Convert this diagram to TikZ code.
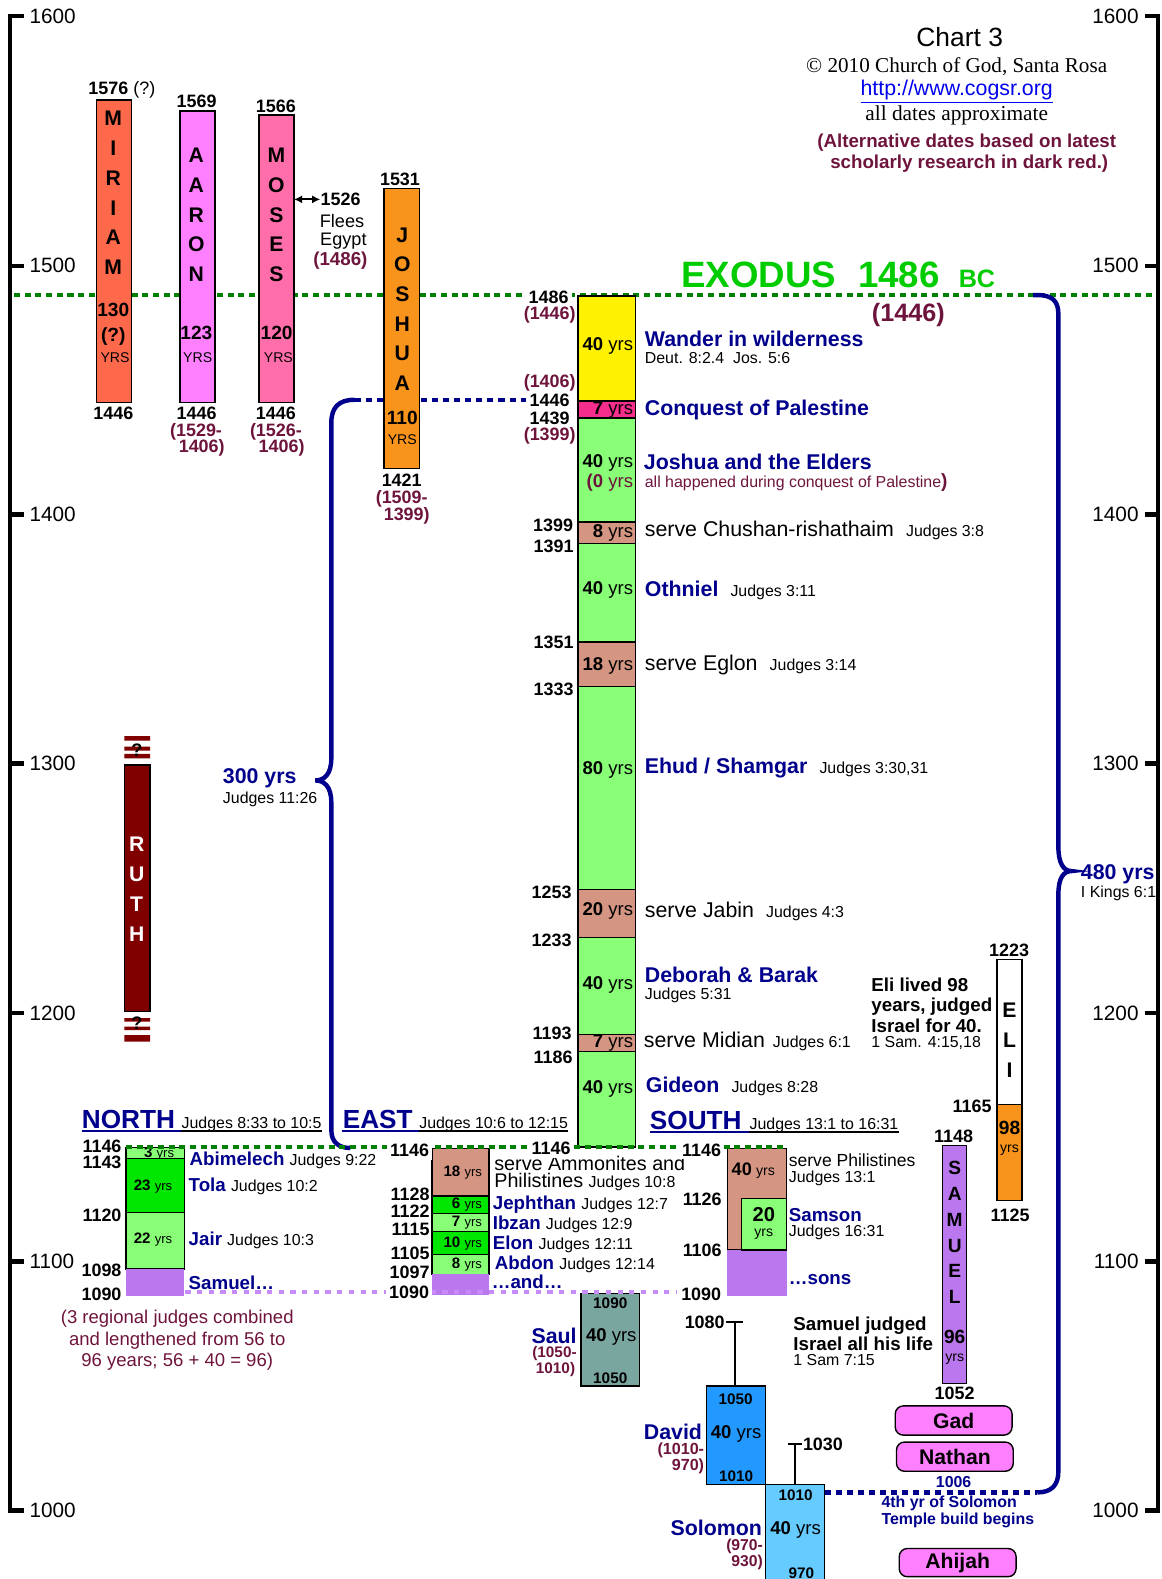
\documentclass[tikz,border=0pt]{standalone}
\usepackage{fontspec}
\setmainfont{Liberation Sans}
\newfontfamily\timesrm{Liberation Serif}
\usetikzlibrary{arrows.meta}
\definecolor{navy}{RGB}{0,0,140}
\definecolor{dkred}{RGB}{110,20,60}
\definecolor{dkgreen}{RGB}{0,128,0}
\definecolor{exgreen}{RGB}{0,204,0}
\definecolor{ltgreen}{RGB}{136,255,119}
\definecolor{brgreen}{RGB}{0,230,0}
\definecolor{servetan}{RGB}{212,150,130}
\definecolor{hotpink}{RGB}{245,45,140}
\definecolor{miriamred}{RGB}{255,105,75}
\definecolor{aaronpink}{RGB}{255,128,255}
\definecolor{mosespink}{RGB}{255,110,170}
\definecolor{joshorange}{RGB}{248,148,28}
\definecolor{ruthred}{RGB}{128,0,0}
\definecolor{samuelpurple}{RGB}{187,119,238}
\definecolor{lilac}{RGB}{200,140,250}
\definecolor{saulgrey}{RGB}{122,166,160}
\definecolor{davidblue}{RGB}{34,153,255}
\definecolor{solomonblue}{RGB}{102,204,255}
\definecolor{urlblue}{RGB}{0,0,238}
\newcommand\jref[1]{{\color{black}\mdseries\fontsize{7.9}{8}\selectfont #1}}
\newcommand\yrsm[1]{{\mdseries\fontsize{#1}{#1}\selectfont yrs}}
\begin{document}
\begin{tikzpicture}[x=0.5pt,y=-0.5pt,
    axl/.style={font=\fontsize{10.3}{11}\selectfont,inner sep=0pt},
    tick/.style={line width=2.3pt},
    yr/.style={font=\bfseries\fontsize{8.9}{9}\selectfont,inner sep=0pt},
    alt/.style={yr,text=dkred},
    yrw/.style={yr,fill=white,inner sep=1.5pt},
    sm/.style={font=\bfseries\fontsize{7.6}{8}\selectfont,inner sep=0pt},
    smalt/.style={font=\bfseries\fontsize{7.8}{8}\selectfont,text=dkred,anchor=east,inner sep=0pt},
    ttl/.style={font=\bfseries\fontsize{10.6}{11}\selectfont,text=navy,anchor=west,inner sep=0pt},
    txt/.style={font=\fontsize{10.6}{11}\selectfont,anchor=west,inner sep=0pt},
    refs/.style={font=\fontsize{7.9}{8}\selectfont,anchor=west,inner sep=0pt},
    judge/.style={font=\bfseries\fontsize{9.3}{10}\selectfont,text=navy,anchor=west,inner sep=0pt},
    note/.style={font=\bfseries\fontsize{9.3}{10}\selectfont,anchor=west,inner sep=0pt},
    colyr/.style={font=\fontsize{9.2}{10}\selectfont,anchor=east,inner sep=0pt},
    smyr/.style={font=\bfseries\fontsize{7.5}{8}\selectfont,inner sep=0pt},
    life/.style={font=\bfseries\fontsize{9.5}{10}\selectfont,inner sep=0pt},
    yrscap/.style={font=\fontsize{7}{8}\selectfont,inner sep=0pt},
    vlet/.style={font=\bfseries\fontsize{10.5}{14.75}\selectfont,align=center,inner sep=0pt},
    bar/.style={draw,line width=0.7pt},
    hdr/.style={font=\bfseries\fontsize{13}{14}\selectfont,text=navy,anchor=base west,inner sep=0pt},
    gdots/.style={dkgreen,line width=2pt,dash pattern=on 3pt off 2.3pt},
    pdots/.style={lilac,line width=2.2pt,dash pattern=on 2.6pt off 3.2pt},
    bdots/.style={navy,line width=2.2pt,dash pattern=on 3pt off 2.5pt},
    brace/.style={navy,line width=2.2pt},
    prophet/.style={draw,fill=aaronpink,rounded corners=4pt,line width=0.7pt,font=\bfseries\fontsize{10.5}{11}\selectfont,minimum width=58pt,minimum height=14.5pt,inner sep=0pt}]
\useasboundingbox (0,0) rectangle (1153,1568);
%% time axes
\draw[tick] (24,16) -- (10,16) -- (10,1500) -- (24,1500);
\draw[tick] (1137,16) -- (1150,16) -- (1150,1500) -- (1137,1500);
\draw[tick] (10,264) -- (24,264) (10,511) -- (24,511) (10,758) -- (24,758) (10,1006) -- (24,1006) (10,1253) -- (24,1253);
\draw[tick] (1137,264) -- (1150,264) (1137,511) -- (1150,511) (1137,758) -- (1150,758) (1137,1006) -- (1150,1006) (1137,1253) -- (1150,1253);
\node[axl,anchor=west] (l16) at (29,16) {1600}; \node[axl,anchor=west] (l15) at (29,264) {1500};
\node[axl,anchor=west] (l14) at (29,511) {1400}; \node[axl,anchor=west] (l13) at (29,758) {1300};
\node[axl,anchor=west] (l12) at (29,1006) {1200}; \node[axl,anchor=west] (l11) at (29,1253) {1100};
\node[axl,anchor=west] (l10) at (29,1500) {1000};
\node[axl,anchor=east] (r16) at (1131,16) {1600}; \node[axl,anchor=east] (r15) at (1131,264) {1500};
\node[axl,anchor=east] (r14) at (1131,511) {1400}; \node[axl,anchor=east] (r13) at (1131,758) {1300};
\node[axl,anchor=east] (r12) at (1131,1006) {1200}; \node[axl,anchor=east] (r11) at (1131,1253) {1100};
\node[axl,anchor=east] (r10) at (1131,1500) {1000};
%% title block
\node[font=\fontsize{13.1}{14}\selectfont,inner sep=0pt] (chart) at (953,36.5) {Chart 3};
\node[font=\timesrm\fontsize{10.5}{11}\selectfont,inner sep=0pt] (copy) at (950,66) {© 2010 Church of God, Santa Rosa};
\node[font=\fontsize{10.6}{11}\selectfont,text=urlblue,inner sep=0pt] (url) at (950,91) {\underline{http://www.cogsr.org}};
\node[font=\timesrm\fontsize{10.6}{11}\selectfont,inner sep=0pt] (approx) at (950,115) {all dates approximate};
\node[font=\bfseries\fontsize{9.3}{11}\selectfont,text=dkred,inner sep=0pt] (altnote1) at (960,141.3) {(Alternative dates based on latest};
\node[font=\bfseries\fontsize{9.3}{11}\selectfont,text=dkred,inner sep=0pt] (altnote2) at (962.5,162.2) {scholarly research in dark red.)};
%% exodus
\draw[gdots] (14,293) -- (1148,293);
\node[font=\bfseries\fontsize{18.2}{19}\selectfont,text=exgreen,anchor=base west,inner sep=0pt] (exodus) at (676,285.3) {EXODUS\hspace{11pt}1486\hspace{9.5pt}{\fontsize{12.5}{13}\selectfont BC}};
\node[font=\bfseries\fontsize{12.5}{13}\selectfont,text=dkred,inner sep=0pt] (exalt) at (902,312.8) {(1446)};
%% 300 yrs
\coordinate (b300top) at (352,397); \coordinate (b300end) at (522,397); \coordinate (b300low) at (348,1140);
\draw[bdots] (b300top) -- (b300end);
\draw[brace] (b300low) .. controls (336,1140) and (329,1134) .. (329,1122) -- (329,797) .. controls (329,781) and (322,775) .. (313,775) .. controls (322,775) and (329,769) .. (329,753) -- (329,420) .. controls (329,405) and (336,397) .. (b300top);
\node[ttl] (y300) at (221,773) {300 yrs};
\node[refs] (j1126) at (221,793.5) {Judges 11:26};
%% Miriam
\draw[bar,fill=miriamred] (96,99.3) rectangle (130.8,399.5);
\node[vlet] (miriam) at (112.5,191.6) {M\\I\\R\\I\\A\\M};
\node[life] (m130) at (112.5,307.8) {130}; \node[life] (mq) at (112.5,334.3) {(?)}; \node[yrscap] (myrs) at (114.2,354.8) {YRS};
\node[yr] (m1576) at (121,89.4) {1576 \mdseries(?)};
\node[yr] (m1446) at (112.5,410.4) {1446};
%% Aaron
\draw[bar,fill=aaronpink] (178.7,110.2) rectangle (213.5,399.5);
\node[vlet] (aaron) at (195,213.5) {A\\A\\R\\O\\N};
\node[life] (a123) at (195,330.4) {123}; \node[yrscap] (ayrs) at (196.3,354.8) {YRS};
\node[yr] (a1569) at (195.3,101) {1569};
\node[yr] (a1446) at (195.3,410.4) {1446};
\node[alt] (aalt1) at (194.7,428.7) {(1529-}; \node[alt] (aalt2) at (200.3,445.2) {1406)};
%% Moses
\draw[bar,fill=mosespink] (257.2,114.2) rectangle (292,399.5);
\node[vlet] (moses) at (274.5,213.5) {M\\O\\S\\E\\S};
\node[life] (m120) at (274.7,330.4) {120}; \node[yrscap] (myrs2) at (276.4,354.8) {YRS};
\node[yr] (m1566) at (274,105.3) {1566};
\node[yr] (mo1446) at (274,410.4) {1446};
\node[alt] (moalt1) at (274,428.7) {(1526-}; \node[alt] (moalt2) at (279.7,445.2) {1406)};
\coordinate (mosesR) at (292,198);
\node[yr,anchor=west] (f1526) at (318,198) {1526};
\draw[{Latex[length=4pt,width=4pt]}-{Latex[length=4pt,width=4pt]},line width=1pt] (mosesR) -- (f1526.west);
\node[font=\fontsize{9}{9}\selectfont,inner sep=0pt] (flees) at (339.6,219) {Flees};
\node[font=\fontsize{9}{9}\selectfont,inner sep=0pt] (egypt) at (341,239) {Egypt};
\node[alt,font=\bfseries\fontsize{9.3}{10}\selectfont] (f1486) at (338,259) {(1486)};
%% Joshua
\draw[bar,fill=joshorange] (381.3,187) rectangle (416.4,465);
\node[vlet] (joshua) at (399.5,307) {J\\O\\S\\H\\U\\A};
\node[life] (j110) at (399.5,415.4) {110}; \node[yrscap] (jyrs) at (399.5,437) {YRS};
\node[yr] (j1531) at (397.2,178) {1531};
\node[yr] (j1421) at (398.9,476.7) {1421};
\node[alt] (jalt1) at (398.9,494.9) {(1509-}; \node[alt] (jalt2) at (403.9,512.4) {1399)};
%% Ruth
\fill[ruthred] (123.5,731) rectangle (149,735.5) (123.5,741.5) rectangle (149,745.5) (123.5,748.5) rectangle (149,753);
\draw[bar,fill=ruthred] (123.5,759.7) rectangle (149,1004.6);
\fill[ruthred] (123.5,1011) rectangle (149,1014.6) (123.5,1019.5) rectangle (149,1023) (123.5,1027.8) rectangle (149,1034.4);
\node[vlet,text=white] (ruth) at (135.7,883) {R\\U\\T\\H};
\node[font=\bfseries\fontsize{9}{9}\selectfont,inner sep=0pt] (rq1) at (136,745) {?};
\node[font=\bfseries\fontsize{9}{9}\selectfont,inner sep=0pt] (rq2) at (136,1016) {?};
%% judges column
\draw[bar,fill=yellow] (574,294) rectangle (631,398);
\draw[bar,fill=hotpink] (574,398) rectangle (631,415);
\draw[bar,fill=ltgreen] (574,415) rectangle (631,518.5);
\draw[bar,fill=servetan] (574,518.5) rectangle (631,540);
\draw[bar,fill=ltgreen] (574,540) rectangle (631,637.5);
\draw[bar,fill=servetan] (574,637.5) rectangle (631,682);
\draw[bar,fill=ltgreen] (574,682) rectangle (631,883);
\draw[bar,fill=servetan] (574,883) rectangle (631,931);
\draw[bar,fill=ltgreen] (574,931) rectangle (631,1027);
\draw[bar,fill=servetan] (574,1027) rectangle (631,1044);
\draw[bar,fill=ltgreen] (574,1044) rectangle (631,1139);
\node[colyr] (c40a) at (629,344) {\textbf{40} yrs};
\begin{scope} \clip (574,398) rectangle (631,415); \node[colyr] (c7a) at (629,407) {\textbf{7} yrs}; \end{scope}
\node[colyr] (c40b) at (629,460) {\textbf{40} yrs}; \node[colyr,text=dkred] (c0) at (629,479) {\textbf{(0} yrs};
\node[colyr] (c8) at (629,529) {\textbf{8} yrs};
\node[colyr] (c40c) at (629,586) {\textbf{40} yrs};
\node[colyr] (c18) at (629,661) {\textbf{18} yrs};
\node[colyr] (c80) at (629,765) {\textbf{80} yrs};
\node[colyr] (c20) at (629,905) {\textbf{20} yrs};
\node[colyr] (c40d) at (629,978) {\textbf{40} yrs};
\begin{scope} \clip (574,1027) rectangle (631,1044); \node[colyr] (c7b) at (629,1035.5) {\textbf{7} yrs}; \end{scope}
\node[colyr] (c40e) at (629,1081) {\textbf{40} yrs};
\node[yrw,anchor=east] (y1486) at (568,295) {1486};
\node[alt,anchor=east] (a1446c) at (572,313) {(1446)};
\node[alt,anchor=east] (a1406) at (572,380.5) {(1406)};
\node[yr,anchor=east] (y1446) at (566,398) {1446};
\node[yr,anchor=east] (y1439) at (566,415.5) {1439};
\node[alt,anchor=east] (a1399) at (572,433) {(1399)};
\node[yr,anchor=east] (y1399) at (569.5,522) {1399};
\node[yr,anchor=east] (y1391) at (570,543) {1391};
\node[yr,anchor=east] (y1351) at (570,638) {1351};
\node[yr,anchor=east] (y1333) at (570,685) {1333};
\node[yr,anchor=east] (y1253) at (568,886.5) {1253};
\node[yr,anchor=east] (y1233) at (568,934) {1233};
\node[yr,anchor=east] (y1193) at (568,1026) {1193};
\node[yr,anchor=east] (y1186) at (569,1050) {1186};
\node[ttl] (wander) at (640,337) {Wander in wilderness};
\node[refs] (deut) at (640,356) {Deut. 8:2.4\ \ Jos. 5:6};
\node[ttl] (conquest) at (640,407) {Conquest of Palestine};
\node[ttl] (elders) at (639,458.5) {Joshua and the Elders};
\node[refs,text=dkred] (happened) at (640,479.5) {all happened during conquest of Palestine{\bfseries\fontsize{9.5}{10}\selectfont)}};
\node[txt] (chushan) at (640,527) {serve Chushan-rishathaim\hspace{6pt}\jref{Judges 3:8}};
\node[ttl] (othniel) at (640,586) {Othniel\hspace{6pt}\jref{Judges 3:11}};
\node[txt] (eglon) at (640,660) {serve Eglon\hspace{6pt}\jref{Judges 3:14}};
\node[ttl] (ehud) at (640,763) {Ehud / Shamgar\hspace{6pt}\jref{Judges 3:30,31}};
\node[txt] (jabin) at (640,905) {serve Jabin\hspace{6pt}\jref{Judges 4:3}};
\node[ttl] (deborah) at (640,968) {Deborah \& Barak};
\node[refs] (deb531) at (640,988) {Judges 5:31};
\node[txt] (midian) at (639,1034.5) {serve Midian\hspace{4pt}\jref{Judges 6:1}};
\node[ttl] (gideon) at (641,1078.5) {Gideon\hspace{6pt}\jref{Judges 8:28}};
%% Eli
\node[note,align=left,anchor=north west] (elinote) at (865,971) {Eli lived 98\\years, judged\\Israel for 40.};
\node[refs] (sam415) at (865,1036) {1 Sam. 4:15,18};
\draw[bar,fill=white] (990,953) rectangle (1015,1096.5);
\draw[bar,fill=joshorange] (990,1096.5) rectangle (1015,1192);
\node[vlet,font=\bfseries\fontsize{10.5}{15}\selectfont] (eli) at (1002.5,1033) {E\\L\\I};
\node[life] (e98) at (1002.5,1120) {98}; \node[yrscap] (e98y) at (1002.5,1142) {yrs};
\node[yr] (e1223) at (1002,943.4) {1223};
\node[yr,anchor=east] (e1165) at (985,1099) {1165};
\node[yr] (e1125) at (1003,1206.6) {1125};
%% north
\node[hdr] (north) at (81,1120.5) {NORTH};
\node[refs,anchor=base west] (northref) at (180,1120.5) {Judges 8:33 to 10:5};
\draw[navy,line width=0.8pt] ([yshift=-1.3pt]north.base west) -- ([yshift=-1.3pt]northref.base west);
\draw[line width=0.7pt] ([yshift=-1.3pt]northref.base west) -- ([yshift=-1.3pt]northref.base east);
\draw[bar,fill=ltgreen] (125,1139.5) rectangle (183,1150.5);
\draw[bar,fill=brgreen] (125,1150.5) rectangle (183,1204);
\draw[bar,fill=ltgreen] (125,1204) rectangle (183,1260);
\fill[samuelpurple] (125,1260) rectangle (183,1287);
\begin{scope} \clip (125,1139.5) rectangle (183,1150.5); \node[smyr] (n3) at (158,1146) {3 \yrsm{6.5}}; \end{scope}
\node[smyr] (n23) at (152,1178) {23 \yrsm{6.5}};
\node[smyr] (n22) at (152,1231) {22 \yrsm{6.5}};
\node[yr,anchor=east] (n1146) at (121,1138) {1146};
\node[yr,anchor=east] (n1143) at (121,1154.5) {1143};
\node[yr,anchor=east] (n1120) at (121,1206.5) {1120};
\node[yr,anchor=east] (n1098) at (121,1261) {1098};
\node[yr,anchor=east] (n1090) at (121,1285) {1090};
\node[judge] (abimelech) at (188,1152) {Abimelech \jref{Judges 9:22}};
\node[judge] (tola) at (187,1178.5) {Tola \jref{Judges 10:2}};
\node[judge] (jair) at (187,1232) {Jair \jref{Judges 10:3}};
\node[judge] (samnorth) at (187,1274) {Samuel…};
\node[font=\fontsize{9.2}{10.75}\selectfont,text=dkred,align=center,inner sep=0pt] (combined) at (176,1331) {(3 regional judges combined\\and lengthened from 56 to\\96 years; 56 + 40 = 96)};
%% east
\node[hdr] (east) at (340,1120.5) {EAST};
\node[refs,anchor=base west] (eastref) at (416,1120.5) {Judges 10:6 to 12:15};
\draw[navy,line width=0.8pt] ([yshift=-1.3pt]east.base west) -- ([yshift=-1.3pt]eastref.base west);
\draw[line width=0.7pt] ([yshift=-1.3pt]eastref.base west) -- ([yshift=-1.3pt]eastref.base east);
\draw[bar,fill=servetan] (429,1140.7) rectangle (485.6,1187.7);
\draw[bar,fill=brgreen] (429,1187.7) rectangle (485.6,1205);
\draw[bar,fill=ltgreen] (429,1205) rectangle (485.6,1223);
\draw[bar,fill=brgreen] (429,1223) rectangle (485.6,1245.6);
\draw[bar,fill=ltgreen] (429,1245.6) rectangle (485.6,1265.5);
\fill[samuelpurple] (429,1265.5) rectangle (485.6,1286);
\node[smyr,anchor=east] (e18) at (479,1164.5) {18 \yrsm{6.5}};
\node[smyr,anchor=east] (e6) at (479,1196) {6 \yrsm{6.5}};
\node[smyr,anchor=east] (e7) at (479,1214.5) {7 \yrsm{6.5}};
\node[smyr,anchor=east] (e10) at (479,1235) {10 \yrsm{6.5}};
\node[smyr,anchor=east] (e8) at (479,1256) {8 \yrsm{6.5}};
\node[yr,anchor=east] (e1128) at (427,1185.7) {1128};
\node[yr,anchor=east] (e1122) at (427,1203) {1122};
\node[yr,anchor=east] (e1115) at (427,1221) {1115};
\node[yr,anchor=east] (e1105) at (427,1244.6) {1105};
\node[yr,anchor=east] (e1097) at (427,1263) {1097};
\node[txt,font=\fontsize{9.8}{10}\selectfont] (ammon) at (490.5,1155.5) {serve Ammonites and};
\node[txt,font=\fontsize{9.8}{10}\selectfont] (philis) at (490.5,1174) {Philistines \jref{Judges 10:8}};
\node[judge] (jephthan) at (489,1196.5) {Jephthan \jref{Judges 12:7}};
\node[judge] (ibzan) at (489,1215.5) {Ibzan \jref{Judges 12:9}};
\node[judge] (elon) at (489,1235.5) {Elon \jref{Judges 12:11}};
\node[judge] (abdon) at (491,1256) {Abdon \jref{Judges 12:14}};
\node[judge] (andeast) at (488,1273) {…and…};
%% south
\node[hdr] (south) at (645,1121.5) {SOUTH};
\node[refs,anchor=base west] (southref) at (744,1121.5) {Judges 13:1 to 16:31};
\draw[navy,line width=0.8pt] ([yshift=-1.3pt]south.base west) -- ([yshift=-1.3pt]southref.base west);
\draw[line width=0.7pt] ([yshift=-1.3pt]southref.base west) -- ([yshift=-1.3pt]southref.base east);
\draw[bar,fill=servetan] (722.3,1140.7) rectangle (781.2,1241.3);
\fill[samuelpurple] (722.3,1241.3) rectangle (781.2,1287);
\draw[bar,fill=ltgreen] (736.5,1190) rectangle (781.2,1241.3);
\node[smyr] (s40) at (748,1162) {{\fontsize{9}{9}\selectfont 40} \yrsm{7}};
\node[font=\bfseries\fontsize{10}{10}\selectfont,inner sep=0pt] (s20) at (758.5,1206.5) {20};
\node[yrscap] (s20y) at (758.5,1225.5) {yrs};
\node[yr,anchor=east] (s1126) at (717,1191) {1126};
\node[yr,anchor=east] (s1106) at (717,1242) {1106};
\node[txt,font=\fontsize{8.7}{9}\selectfont] (sphilis) at (783,1152) {serve Philistines};
\node[refs] (s131) at (783,1170) {Judges 13:1};
\node[judge] (samson) at (783,1206.5) {Samson};
\node[refs] (s1631) at (783,1224) {Judges 16:31};
\node[judge] (sons) at (783,1271) {…sons};
%% Saul
\draw[bar,fill=saulgrey] (577,1284.3) rectangle (635,1376.4);
\node[sm] (saul1090) at (606,1294.3) {1090};
\node[colyr,anchor=center] (saul40) at (607,1327.5) {\textbf{40} yrs};
\node[sm] (saul1050) at (606,1369) {1050};
\node[ttl,anchor=east] (saul) at (573,1326.5) {Saul};
\node[smalt,font=\bfseries\fontsize{7.6}{8}\selectfont] (saulalt1) at (573,1344.5) {(1050-};
\node[smalt,font=\bfseries\fontsize{7.6}{8}\selectfont] (saulalt2) at (571.5,1359.5) {1010)};
%% 1146 and 1090 lines
\draw[gdots] (125,1138.7) -- (778,1138.7);
\draw[pdots] (184,1283) -- (672,1283);
\node[yrw,anchor=east] (c1146) at (570,1140.3) {1146};
\node[yrw,anchor=east] (e1146) at (429.5,1142.7) {1146};
\node[yrw,anchor=east] (s1146) at (719.5,1142) {1146};
\node[yrw,anchor=east] (e1090) at (429.5,1283.7) {1090};
\node[yrw,anchor=east] (s1090) at (719.5,1285) {1090};
%% Samuel
\draw[bar,fill=samuelpurple] (936,1137.5) rectangle (960,1374);
\node[vlet,font=\bfseries\fontsize{9.5}{12.8}\selectfont] (samuel) at (948,1224) {S\\A\\M\\U\\E\\L};
\node[life] (sa96) at (948,1328) {96}; \node[yrscap] (sa96y) at (948,1350) {yrs};
\node[yr] (sa1148) at (947,1128.8) {1148};
\node[yr] (sa1052) at (948,1383.5) {1052};
\node[note] (sjudged1) at (787.5,1316) {Samuel judged};
\node[note] (sjudged2) at (787.5,1334) {Israel all his life};
\node[refs] (sam715) at (787.5,1351) {1 Sam 7:15};
%% David
\coordinate (t1080) at (730,1313); \coordinate (dtop) at (730,1376.4);
\draw[line width=1.2pt] (721,1313) -- (738,1313);
\draw[line width=1.2pt] (t1080) -- (dtop);
\node[yr,anchor=east] (y1080) at (720,1313) {1080};
\draw[bar,fill=davidblue] (701.7,1376.4) rectangle (760.3,1474);
\node[sm] (d1050) at (730.5,1389.5) {1050};
\node[colyr,anchor=center] (d40) at (731,1423.5) {\textbf{40} yrs};
\node[sm] (d1010) at (731,1465.5) {1010};
\node[ttl,anchor=east] (david) at (697.5,1422) {David};
\node[smalt,font=\bfseries\fontsize{8}{8}\selectfont] (dalt1) at (699.6,1440) {(1010-};
\node[smalt,font=\bfseries\fontsize{8}{8}\selectfont] (dalt2) at (699.6,1456) {970)};
%% Solomon
\coordinate (t1030) at (789.5,1434); \coordinate (stop) at (789.5,1474);
\draw[line width=1.2pt] (782.5,1434) -- (796,1434);
\draw[line width=1.2pt] (t1030) -- (stop);
\node[yr,anchor=west] (y1030) at (797,1434) {1030};
\draw[bar,fill=solomonblue] (760.3,1474) rectangle (818.9,1580);
\node[sm] (s1010) at (790,1484.5) {1010};
\node[colyr,anchor=center] (s40y) at (790,1519.5) {\textbf{40} yrs};
\node[sm] (s970) at (795.8,1562.5) {970};
\node[ttl,anchor=east] (solomon) at (757,1517.5) {Solomon};
\node[smalt] (solalt1) at (758,1535.3) {(970-};
\node[smalt] (solalt2) at (758,1551.3) {930)};
%% prophets
\node[prophet] (gad) at (947,1410.6) {Gad};
\node[prophet] (nathan) at (948.2,1446.5) {Nathan};
\node[prophet,minimum height=14pt] (ahijah) at (951,1551.7) {Ahijah};
\node[font=\bfseries\fontsize{7.9}{8}\selectfont,text=navy,inner sep=0pt] (n1006) at (947,1471.3) {1006};
\node[font=\bfseries\fontsize{7.9}{8}\selectfont,text=navy,anchor=west,inner sep=0pt] (temple1) at (875,1493) {4th yr of Solomon};
\node[font=\bfseries\fontsize{7.9}{8}\selectfont,text=navy,anchor=west,inner sep=0pt] (temple2) at (875,1510) {Temple build begins};
%% 480 yrs
\coordinate (solR) at (818.9,1482); \coordinate (b480end) at (1030,1482);
\draw[bdots] (solR) -- (b480end);
\draw[brace] (b480end) .. controls (1044,1482) and (1051,1475) .. (1051,1461) -- (1051,888) .. controls (1051,872) and (1056,865) .. (1064,865) .. controls (1056,865) and (1051,857) .. (1051,841) -- (1051,312) .. controls (1051,299) and (1045,293) .. (1030,293) -- (1026,293);
\node[ttl] (y480) at (1073,868) {480 yrs};
\node[refs] (kings) at (1073,887) {I Kings 6:1};
\end{tikzpicture}
\end{document}
